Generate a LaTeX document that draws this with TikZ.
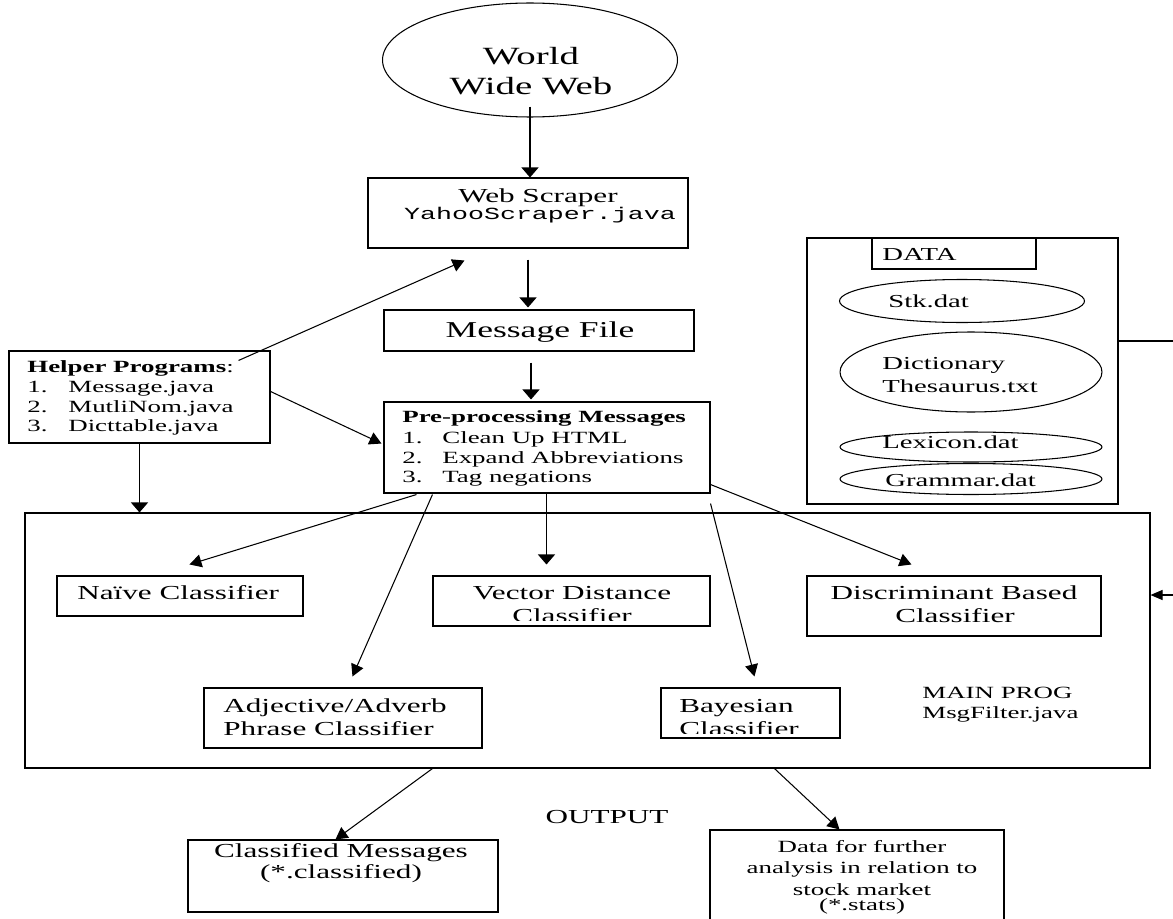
\documentclass[tikz,border=0pt]{standalone}
\usepackage{fontspec}
\setmainfont{Liberation Serif}[FakeStretch=1.57]
\setmonofont{Liberation Mono}[FakeStretch=1.57]
\usetikzlibrary{arrows.meta,shapes.geometric,fit,calc}
\tikzset{
  box/.style={draw, line width=0.6pt, inner sep=0pt},
  oval/.style={draw, ellipse, line width=0.6pt, inner sep=0pt},
  lbl/.style={inner sep=0pt, anchor=base west},
  lblc/.style={inner sep=0pt, anchor=base},
  conn/.style={line width=0.6pt},
  arrV/.style={conn, -{Triangle[length=0.2cm,width=0.34cm]}},
  arrD/.style={conn, -{Triangle[length=0.24cm,width=0.26cm]}},
  arrH/.style={conn, -{Triangle[length=0.24cm,width=0.2cm]}},
  fWWW/.style={font=\fontsize{14.1}{16}\selectfont},
  fMF/.style={font=\fontsize{12.9}{15}\selectfont},
  fA/.style={font=\fontsize{11.3}{13}\selectfont},
  fM/.style={font=\fontsize{9.65}{11}\selectfont\ttfamily},
  fB/.style={font=\fontsize{9.75}{11}\selectfont},
  fD/.style={font=\fontsize{10.4}{12}\selectfont},
}
\begin{document}
\begin{tikzpicture}[x=0.02cm,y=-0.02cm]
\path[use as bounding box] (0,0) rectangle (1173,919);

% ---------- boxes ----------
\node[oval, minimum width=5.9cm, minimum height=2.28cm] (www) at (530,60) {};
\node[box, fit={(368,178) (688,248)}] (ws) {};
\node[box, fit={(384,310) (694,351)}] (mf) {};
\node[box, fit={(384,402) (710,493)}] (pp) {};
\node[box, fit={(9,351) (270,443)}] (hp) {};
\node[box, fit={(807,238) (1118,504)}] (data) {};
\node[box, fit={(872,238) (1036,269)}] (datat) {};
\node[oval, minimum width=4.9cm, minimum height=0.86cm] (stk) at (962,301) {};
\node[oval, minimum width=5.24cm, minimum height=1.6cm] (dict) at (971,372) {};
\node[oval, minimum width=5.24cm, minimum height=0.6cm] (lex) at (971,447) {};
\node[oval, minimum width=5.24cm, minimum height=0.62cm] (gram) at (971,479) {};
\node[box, fit={(25,513) (1150,768)}] (main) {};
\node[box, fit={(57,576) (303,616)}] (naive) {};
\node[box, fit={(433,576) (710,626)}] (vec) {};
\node[box, fit={(807,576) (1101,636)}] (disc) {};
\node[box, fit={(204,688) (482,748)}] (adj) {};
\node[box, fit={(661,688) (840,738)}] (bay) {};
\node[box, fit={(188,840) (498,912)}] (cls) {};
\begin{scope}
  \clip (0,0) rectangle (1173,919);
  \node[box, fit={(710,830) (1004,935)}] (dat) {};
\end{scope}

% ---------- texts ----------
\node[lblc, fWWW] (t1) at (531,65) {World};
\node[lblc, fWWW] (t2) at (531,94) {Wide Web};
\node[lblc, fA] (t3) at (538,202) {Web Scraper};
\node[lblc, fM] (t4) at (540,219) {YahooScraper.java};
\node[lblc, fMF] (t5) at (540,337) {Message File};

\node[lbl, fB] (p0) at (402,422) {\bfseries Pre-processing Messages};
\node[lbl, fB] (p1n) at (402,443) {1.};
\node[lbl, fB] (p1) at (442,443) {Clean Up HTML};
\node[lbl, fB] (p2n) at (402,463) {2.};
\node[lbl, fB] (p2) at (442,463) {Expand Abbreviations};
\node[lbl, fB] (p3n) at (402,482) {3.};
\node[lbl, fB] (p3) at (442,482) {Tag negations};

\node[lbl, fB] (h0) at (27,372) {\textbf{Helper Programs}:};
\node[lbl, fB] (h1n) at (27,392) {1.};
\node[lbl, fB] (h1) at (68,392) {Message.java};
\node[lbl, fB] (h2n) at (27,412) {2.};
\node[lbl, fB] (h2) at (68,412) {MutliNom.java};
\node[lbl, fB] (h3n) at (27,431) {3.};
\node[lbl, fB] (h3) at (68,431) {Dicttable.java};

\node[lbl, fD] (d0) at (882,260) {DATA};
\node[lbl, fD] (d1) at (888,307) {Stk.dat};
\node[lbl, fD] (d2) at (882,369) {Dictionary};
\node[lbl, fD] (d3) at (882,392) {Thesaurus.txt};
\node[lbl, fD] (d4) at (882,448) {Lexicon.dat};
\node[lbl, fD] (d5) at (885,486) {Grammar.dat};

\node[lbl, fA] (c1) at (77,599) {Naïve Classifier};
\node[lblc, fA] (c2) at (572,599) {Vector Distance};
\begin{scope}
  \clip (433,576) rectangle (710,620);
  \node[lblc, fA] (c2b) at (572,622) {Classifier};
\end{scope}
\node[lblc, fA] (c3) at (954,599) {Discriminant Based};
\node[lblc, fA] (c3b) at (955,622) {Classifier};
\node[lbl, fA] (c4) at (223,712) {Adjective/Adverb};
\node[lbl, fA] (c4b) at (223,735) {Phrase Classifier};
\node[lbl, fA] (c5) at (679,712) {Bayesian};
\begin{scope}
  \clip (661,688) rectangle (840,733);
  \node[lbl, fA] (c5b) at (679,735) {Classifier};
\end{scope}
\node[lbl, fB] (m1) at (922,698) {MAIN PROG};
\node[lbl, fB] (m2) at (922,718) {MsgFilter.java};

\node[lblc, fA] (o0) at (607,823) {OUTPUT};
\node[lblc, fA] (o1) at (341,857) {Classified Messages};
\node[lblc, fA] (o2) at (341,878) {(*.classified)};
\node[lblc, fB] (s1) at (862,852) {Data for further};
\node[lblc, fB] (s2) at (862,873) {analysis in relation to};
\node[lblc, fB] (s3) at (862,895) {stock market};
\node[lblc, fB] (s4) at (862,910) {(*.stats)};

% ---------- connector end points ----------
\coordinate (wwwS) at ($(www.south)+(0,-11)$);
\coordinate (wsS) at (ws.south);
\coordinate (mfS) at ($(mf.south)+(-8,0)$);
\coordinate (hpA) at ($(hp.north east)+(-32,10)$);
\coordinate (wsA) at ($(ws.south west)+(97,12)$);
\coordinate (hpB) at ($(hp.north east)+(0,41)$);
\coordinate (ppB) at ($(pp.south west)+(-2,-50)$);
\coordinate (ppN) at ($(pp.south west)+(33,1)$);
\coordinate (naN) at ($(naive.north west)+(133,-11)$);
\coordinate (ppA) at ($(pp.south west)+(49,1)$);
\coordinate (adA) at ($(adj.north west)+(149,-11)$);
\coordinate (ppV) at ($(pp.south west)+(163,0)$);
\coordinate (ppY) at ($(pp.south east)+(0,10)$);
\coordinate (byA) at ($(bay.north west)+(94,-11)$);
\coordinate (ppD) at ($(pp.south east)+(0,-9)$);
\coordinate (diA) at ($(disc.north west)+(105,-11)$);
\coordinate (mnC) at ($(main.south west)+(408,0)$);
\coordinate (clA) at ($(cls.north west)+(148,0)$);
\coordinate (mnD) at ($(main.south west)+(750,0)$);
\coordinate (daA) at ($(dat.north west)+(130,0)$);
\coordinate (dtE) at (data.east |- 0,341);
\coordinate (mnE) at (main.east |- 0,595);
\coordinate (off1) at (1190,341);
\coordinate (off2) at (1190,595);

% ---------- connectors ----------
\draw[arrV] (wwwS) -- (wwwS |- ws.north);
\draw[arrV, shorten <=0.22cm, shorten >=0.04cm] (wsS) -- (wsS |- mf.north);
\draw[arrV, shorten <=0.22cm, shorten >=0.04cm] (mfS) -- (mfS |- pp.north);
\draw[arrD] (hpA) -- (wsA);
\draw[arrD] (hpB) -- (ppB);
\draw[arrV] (hp.south) -- (hp.south |- main.north);
\draw[arrD] (ppN) -- (naN);
\draw[arrD] (ppA) -- (adA);
\draw[arrV, shorten >=0.22cm] (ppV) -- (ppV |- vec.north);
\draw[arrD] (ppY) -- (byA);
\draw[arrD] (ppD) -- (diA);
\draw[arrD] (mnC) -- (clA);
\draw[arrD] (mnD) -- (daA);
\begin{scope}
  \clip (0,0) rectangle (1173,919);
  \draw[arrH] (dtE) -- (off1) -- (off2) -- (mnE);
\end{scope}
\end{tikzpicture}
\end{document}
